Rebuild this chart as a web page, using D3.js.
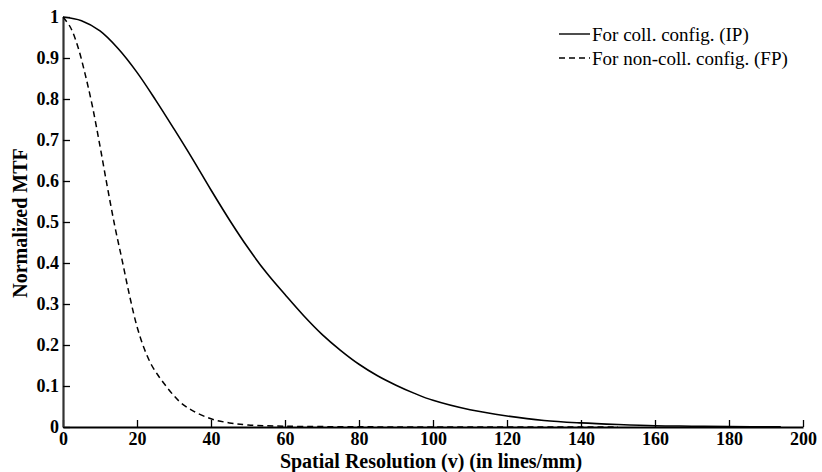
<!DOCTYPE html>
<html>
<head>
<meta charset="utf-8">
<script src="https://cdn.jsdelivr.net/npm/d3@7"></script>
<style>
  html, body { margin: 0; padding: 0; background: #fff; }
  svg { display: block; }
  text { font-family: "Liberation Serif", "DejaVu Serif", "Times New Roman", serif; fill: #000; }
</style>
</head>
<body>
<svg id="chart" width="822" height="472"></svg>
<script>
// Data
const collFreq = [0,5,10,15,20,25,30,35,40,45,50,55,60,65,70,75,80,85,90,95,100,110,120,130,140,150,160,170,180,194];
const collMTF  = [1,0.991,0.966,0.922,0.865,0.798,0.727,0.654,0.578,0.505,0.437,0.376,0.323,0.272,0.226,0.187,0.153,0.125,0.102,0.082,0.065,0.042,0.027,0.016,0.010,0.006,0.003,0.002,0.001,0.0005];

const nonCollFreq = [0,2,4,6,8,10,12,14,16,18,20,22,24,26,28,30,32,35,40,45,50,60,80,100,150];
const nonCollMTF  = [1,0.975,0.928,0.86,0.78,0.685,0.585,0.49,0.406,0.32,0.245,0.19,0.15,0.122,0.098,0.076,0.058,0.04,0.02,0.01,0.005,0.002,0.0005,0,0];

const xTicks = [0,20,40,60,80,100,120,140,160,180,200];
const yTicks = [0,0.1,0.2,0.3,0.4,0.5,0.6,0.7,0.8,0.9,1];
const legendLabels = ["For coll. config. (IP)", "For non-coll. config. (FP)"];
const xTitle = "Spatial Resolution (v) (in lines/mm)";
const yTitle = "Normalized MTF";

const FONT = '"Liberation Serif", "DejaVu Serif", "Times New Roman", serif';
const svg = d3.select("#chart");
const x = d3.scaleLinear().domain([0, 200]).range([63, 803]);
const y = d3.scaleLinear().domain([0, 1]).range([427, 17]);

// X axis
const xAxis = svg.append("g").attr("transform", `translate(0,${y(0)})`)
  .call(d3.axisBottom(x).tickValues(xTicks).tickFormat(d3.format("d")).tickSizeInner(-7).tickSizeOuter(0).tickPadding(5));
xAxis.attr("font-family", FONT);
xAxis.select(".domain").attr("stroke", "#000").attr("stroke-width", 2);
xAxis.selectAll(".tick line").attr("stroke", "#000").attr("stroke-width", 1.3);
xAxis.selectAll(".tick text").attr("font-size", 18).attr("font-weight", "bold").attr("fill", "#000");

// Y axis
const yAxis = svg.append("g").attr("transform", `translate(${x(0)},0)`)
  .call(d3.axisLeft(y).tickValues(yTicks).tickFormat(d => d === 0 || d === 1 ? d3.format("d")(d) : d3.format(".1f")(d)).tickSizeInner(-7).tickSizeOuter(0).tickPadding(4));
yAxis.attr("font-family", FONT);
yAxis.select(".domain").attr("stroke", "#333").attr("stroke-width", 2.2);
yAxis.selectAll(".tick line").attr("stroke", "#000").attr("stroke-width", 1.3);
yAxis.selectAll(".tick text").attr("font-size", 18).attr("font-weight", "bold").attr("fill", "#000");

// Curves
const line = d3.line().x(d => x(d[0])).y(d => y(d[1])).curve(d3.curveCatmullRom.alpha(0.5));
svg.append("path")
  .datum(collFreq.map((f, i) => [f, collMTF[i]]))
  .attr("d", line).attr("fill", "none").attr("stroke", "#000").attr("stroke-width", 1.6);
svg.append("path")
  .datum(nonCollFreq.map((f, i) => [f, nonCollMTF[i]]))
  .attr("d", line).attr("fill", "none").attr("stroke", "#000").attr("stroke-width", 1.5)
  .attr("stroke-dasharray", "6,4");

// Legend
const legendY = [34, 58];
const lg = svg.append("g");
legendLabels.forEach((lab, i) => {
  lg.append("line").attr("x1", 559).attr("x2", 590).attr("y1", legendY[i]).attr("y2", legendY[i])
    .attr("stroke", "#000").attr("stroke-width", 1.4)
    .attr("stroke-dasharray", i === 1 ? "6,4" : null);
  lg.append("text").attr("x", 592).attr("y", legendY[i] + 7)
    .attr("font-size", 19).text(lab);
});

// Axis titles
svg.append("text").attr("x", 431).attr("y", 468).attr("text-anchor", "middle")
  .attr("font-size", 20).attr("font-weight", "bold").text(xTitle);
svg.append("text").attr("transform", "translate(27,223) rotate(-90)").attr("text-anchor", "middle")
  .attr("font-size", 20).attr("font-weight", "bold").text(yTitle);
</script>
</body>
</html>
